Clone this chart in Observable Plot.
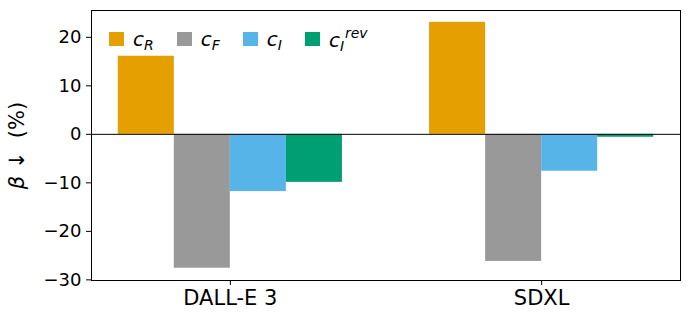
<!DOCTYPE html>
<html>
<head>
<meta charset="utf-8">
<script src="https://cdn.jsdelivr.net/npm/d3@7"></script>
<script src="https://cdn.jsdelivr.net/npm/@observablehq/plot@0.6"></script>
<style>
  html, body { margin: 0; padding: 0; background: white; }
  #wrap { position: relative; width: 690px; height: 320px; font-family: "DejaVu Sans", sans-serif; }
  .legend { position: absolute; left: 109px; top: 27px; display: flex; align-items: center; gap: 0; }
  .item { display: flex; align-items: center; }
  .sw { width: 15px; height: 14px; margin-right: 9px; }
  .lab { font-size: 20px; font-style: italic; line-height: 20px; white-space: nowrap; }
  .lab sub { font-size: 14px; line-height: 0; position: relative; vertical-align: baseline; top: 4px; }
  .ss { position: relative; display: inline-block; width: 26px; height: 20px; vertical-align: baseline; }
  .ss span { position: absolute; left: 0; font-size: 14px; line-height: 12px; }
  .ss .up { top: 0px; left: 5px; }
  .ss .dn { top: 13px; }
</style>
</head>
<body>
<div id="wrap"></div>
<script>
const groups = ["DALL-E 3", "SDXL"];
const series = ["c_R", "c_F", "c_I", "c_I^rev"];
const seriesHTML = ["c<sub>R</sub>", "c<sub>F</sub>", "c<sub>I</sub>", "c<span class=\"ss\"><span class=\"up\">rev</span><span class=\"dn\">I</span></span>"];
const colors = ["#E69F00", "#999999", "#56B4E9", "#009E73"];
const dalleValues = [16.1, -27.6, -11.8, -9.9];
const sdxlValues = [23.1, -26.2, -7.6, -0.6];
const yTicks = [-30, -20, -10, 0, 10, 20];
const yLabel = "β ↓ (%)";
const barWidth = 0.18;

const rows = [];
[dalleValues, sdxlValues].forEach((vals, g) =>
  vals.forEach((v, i) => rows.push({ g, i, s: series[i], v }))
);

const chart = Plot.plot({
  width: 690,
  height: 320,
  marginLeft: 91,
  marginRight: 10,
  marginTop: 10,
  marginBottom: 40,
  style: { fontFamily: "DejaVu Sans", fontSize: "18px", color: "black", background: "white" },
  x: { domain: [-0.446, 1.446] },
  y: { domain: [-30.13, 25.53] },
  color: { domain: series, range: colors },
  marks: [
    Plot.rect(rows, {
      x1: d => d.g + (d.i - 2) * barWidth,
      x2: d => d.g + (d.i - 1) * barWidth,
      y1: () => 0,
      y2: "v",
      fill: "s"
    }),
    Plot.ruleY([0], { stroke: "black", strokeWidth: 1 }),
    Plot.frame({ stroke: "black", strokeWidth: 1 }),
    Plot.axisY({ ticks: yTicks, tickSize: 5, tickPadding: 5, label: yLabel, labelAnchor: "center", labelOffset: 82 }),
    Plot.axisX({ ticks: [0, 1], tickFormat: d => groups[d], tickSize: 5, tickPadding: 5, label: null })
  ]
});

document.getElementById("wrap").appendChild(chart);

const svg = d3.select(chart);
svg.selectAll('g[aria-label="x-axis tick label"] text').style("font-size", "21px");
svg.selectAll('g[aria-label="y-axis label"] text').each(function () {
  const t = d3.select(this);
  t.style("font-size", "21px");
  t.text(null);
  t.append("tspan").attr("font-style", "italic").text("β");
  t.append("tspan").text(" ↓  (%)");
});

const legend = d3.select("#wrap").append("div").attr("class", "legend");
series.forEach((s, i) => {
  const it = legend.append("div").attr("class", "item").style("margin-right", i < series.length - 1 ? "23px" : "0");
  it.append("div").attr("class", "sw").style("background", colors[i]);
  it.append("span").attr("class", "lab").html(seriesHTML[i]);
});
</script>
</body>
</html>
